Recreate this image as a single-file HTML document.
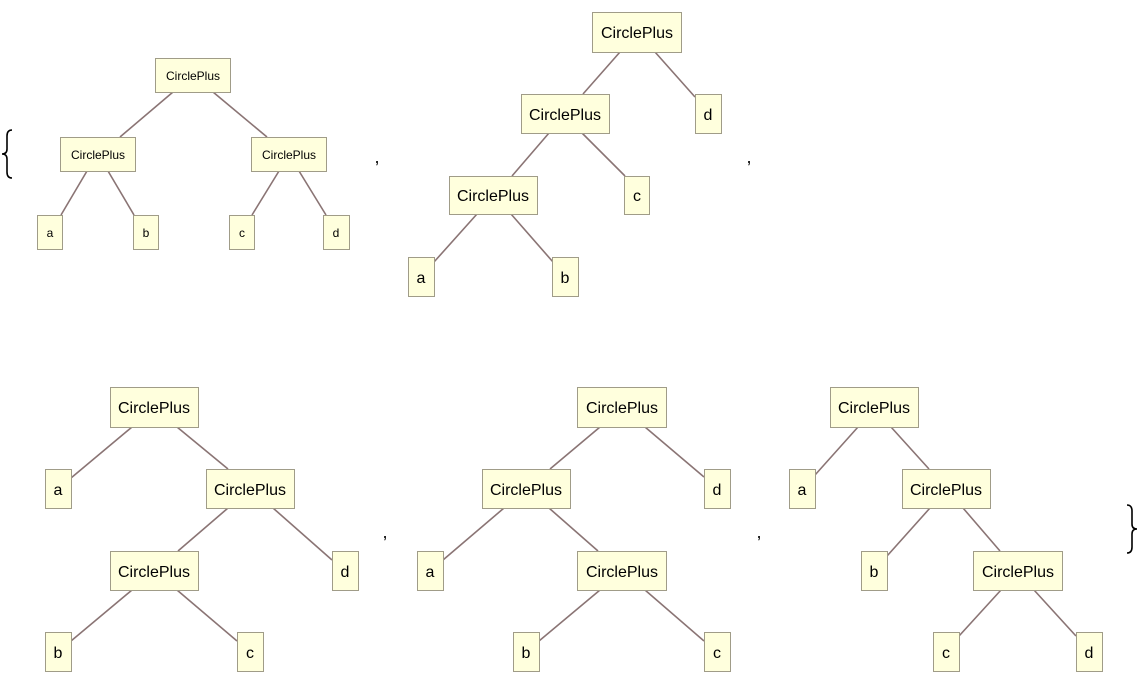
<!DOCTYPE html>
<html><head><meta charset="utf-8"><style>
html,body{margin:0;padding:0;background:#fff;}
svg{display:block;}
text{font-family:"Liberation Sans",sans-serif;fill:#000;}
</style></head><body>
<svg width="1140" height="684" viewBox="0 0 1140 684" xmlns="http://www.w3.org/2000/svg">
<g stroke="#8a7474" stroke-width="1.6" fill="none">
<!-- tree1 -->
<line x1="173" y1="92" x2="120" y2="137"/><line x1="213" y1="92" x2="267" y2="137"/>
<line x1="87" y1="171" x2="61" y2="215"/><line x1="108" y1="171" x2="134" y2="215"/>
<line x1="279" y1="171" x2="252" y2="215"/><line x1="299" y1="171" x2="326" y2="215"/>
<!-- tree2 -->
<line x1="620" y1="52" x2="583" y2="94"/><line x1="655" y1="52" x2="695" y2="97"/>
<line x1="549" y1="133" x2="512" y2="176"/><line x1="582" y1="133" x2="625" y2="176"/>
<line x1="477" y1="214" x2="434" y2="262"/><line x1="511" y1="214" x2="553" y2="262"/>
<!-- tree3 -->
<line x1="132" y1="427" x2="71" y2="478"/><line x1="177" y1="427" x2="228" y2="469"/>
<line x1="228" y1="508" x2="178" y2="551"/><line x1="273" y1="508" x2="332" y2="560"/>
<line x1="132" y1="590" x2="71" y2="641"/><line x1="177" y1="590" x2="237" y2="641"/>
<!-- tree4 -->
<line x1="600" y1="427" x2="550" y2="469"/><line x1="645" y1="427" x2="704" y2="477"/>
<line x1="504" y1="508" x2="443" y2="560"/><line x1="549" y1="508" x2="598" y2="551"/>
<line x1="600" y1="590" x2="539" y2="641"/><line x1="645" y1="590" x2="704" y2="641"/>
<!-- tree5 -->
<line x1="858" y1="427" x2="815" y2="475"/><line x1="891" y1="427" x2="929" y2="469"/>
<line x1="930" y1="508" x2="887" y2="556"/><line x1="963" y1="508" x2="1000" y2="551"/>
<line x1="1001" y1="590" x2="959" y2="636"/><line x1="1034" y1="590" x2="1076" y2="636"/>
</g>
<g fill="#ffffdd" stroke="#a09c88" stroke-width="1">
<!-- tree1 -->
<rect x="155.5" y="58.5" width="75" height="34"/><rect x="60.5" y="137.5" width="75" height="34"/><rect x="251.5" y="137.5" width="75" height="34"/>
<rect x="37.5" y="215.5" width="25" height="34"/><rect x="133.5" y="215.5" width="25" height="34"/><rect x="229.5" y="215.5" width="25" height="34"/><rect x="323.5" y="215.5" width="26" height="34"/>
<!-- tree2 -->
<rect x="592.5" y="12.5" width="89" height="40"/><rect x="521.5" y="94.5" width="88" height="39"/><rect x="695.5" y="94.5" width="26" height="39"/>
<rect x="449.5" y="176.5" width="88" height="38"/><rect x="624.5" y="176.5" width="25" height="38"/>
<rect x="408.5" y="257.5" width="26" height="39"/><rect x="552.5" y="257.5" width="26" height="39"/>
<!-- tree3 -->
<rect x="110.5" y="387.5" width="88" height="40"/><rect x="45.5" y="469.5" width="26" height="39"/><rect x="206.5" y="469.5" width="88" height="39"/>
<rect x="110.5" y="551.5" width="88" height="39"/><rect x="332.5" y="551.5" width="26" height="39"/>
<rect x="45.5" y="632.5" width="26" height="39"/><rect x="237.5" y="632.5" width="26" height="39"/>
<!-- tree4 -->
<rect x="577.5" y="387.5" width="89" height="40"/><rect x="482.5" y="469.5" width="88" height="39"/><rect x="704.5" y="469.5" width="26" height="39"/>
<rect x="417.5" y="551.5" width="26" height="39"/><rect x="577.5" y="551.5" width="89" height="39"/>
<rect x="513.5" y="632.5" width="26" height="39"/><rect x="704.5" y="632.5" width="26" height="39"/>
<!-- tree5 -->
<rect x="830.5" y="387.5" width="88" height="40"/><rect x="789.5" y="469.5" width="26" height="39"/><rect x="902.5" y="469.5" width="88" height="39"/>
<rect x="861.5" y="551.5" width="26" height="39"/><rect x="973.5" y="551.5" width="89" height="39"/>
<rect x="933.5" y="632.5" width="26" height="39"/><rect x="1076.5" y="632.5" width="26" height="39"/>
</g>
<g text-anchor="middle" font-size="12">
<text x="193" y="80">CirclePlus</text><text x="98" y="159">CirclePlus</text><text x="289" y="159">CirclePlus</text>
<text x="50" y="237">a</text><text x="146" y="237">b</text><text x="242" y="237">c</text><text x="336" y="237">d</text>
</g>
<g text-anchor="middle" font-size="16">
<text x="637" y="38">CirclePlus</text><text x="565" y="120">CirclePlus</text><text x="708" y="120">d</text>
<text x="493" y="201">CirclePlus</text><text x="637" y="201">c</text><text x="421" y="283">a</text><text x="565" y="283">b</text>
<text x="154" y="413">CirclePlus</text><text x="58" y="495">a</text><text x="250" y="495">CirclePlus</text>
<text x="154" y="577">CirclePlus</text><text x="345" y="577">d</text><text x="58" y="658">b</text><text x="250" y="658">c</text>
<text x="622" y="413">CirclePlus</text><text x="526" y="495">CirclePlus</text><text x="717" y="495">d</text>
<text x="430" y="577">a</text><text x="622" y="577">CirclePlus</text><text x="526" y="658">b</text><text x="717" y="658">c</text>
<text x="874" y="413">CirclePlus</text><text x="802" y="495">a</text><text x="946" y="495">CirclePlus</text>
<text x="874" y="577">b</text><text x="1018" y="577">CirclePlus</text><text x="946" y="658">c</text><text x="1089" y="658">d</text>
<text x="377" y="163" font-size="18">,</text><text x="749" y="163" font-size="18">,</text>
<text x="385" y="538" font-size="18">,</text><text x="759" y="538" font-size="18">,</text>
</g>
<g stroke="#000" stroke-width="1.6" fill="none">
<path d="M12 130 Q7 130 7 136 L7 149 Q7 154 2 154 Q7 154 7 159 L7 172 Q7 178 12 178"/>
<path d="M1127 505 Q1132 505 1132 511 L1132 524 Q1132 529 1137 529 Q1132 529 1132 534 L1132 547 Q1132 553 1127 553"/>
</g>
</svg>
</body></html>
